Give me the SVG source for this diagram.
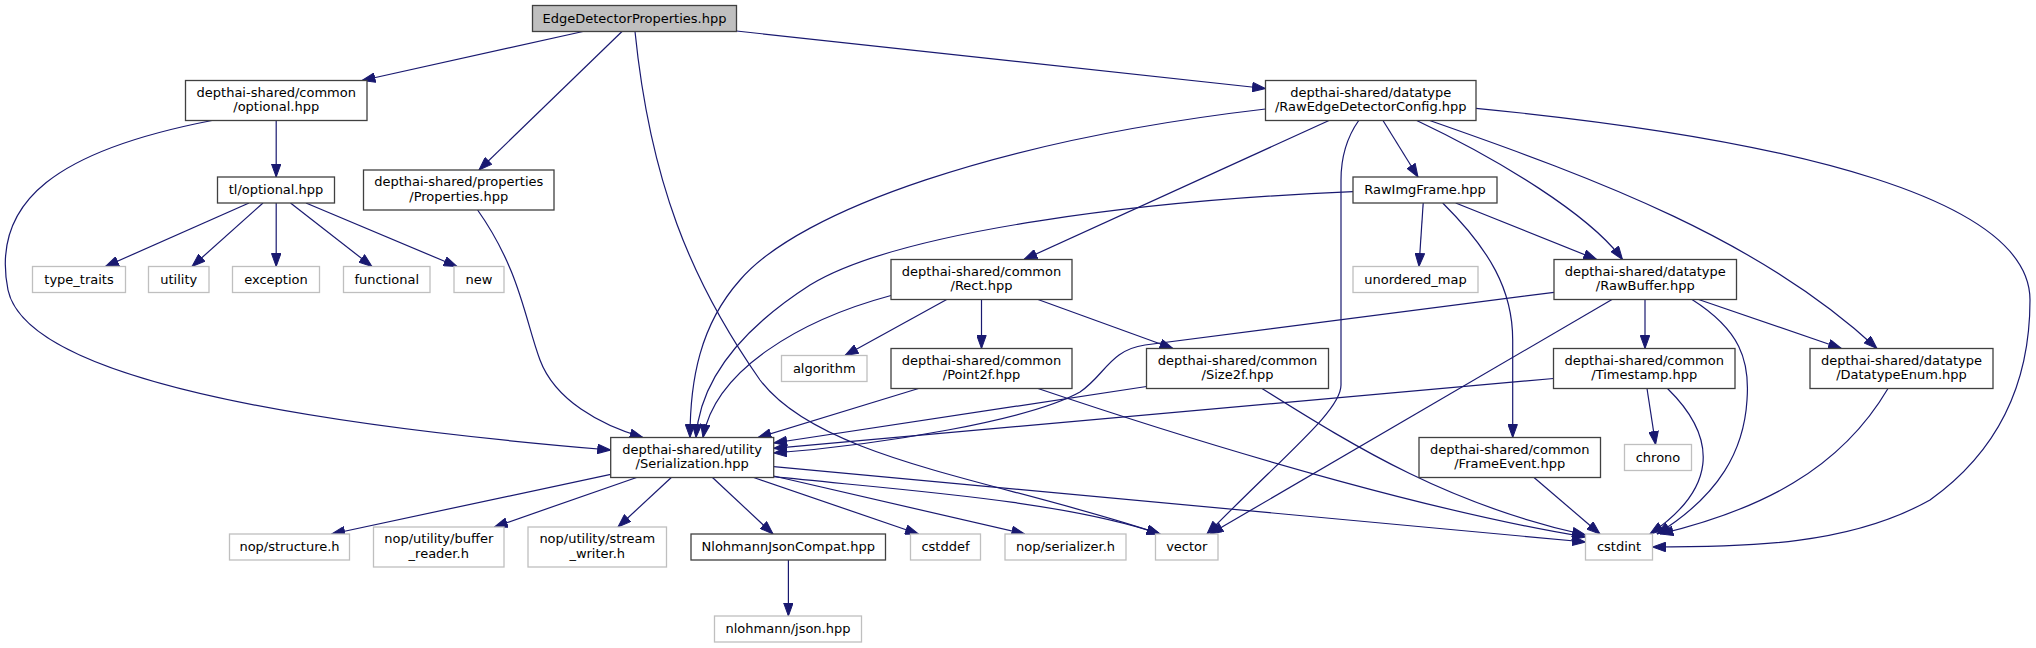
<svg xmlns="http://www.w3.org/2000/svg" width="2036" height="648" viewBox="0 0 2036 648">
<style>
rect{fill:#fff;stroke:#404040;stroke-width:1.3}
.root rect{fill:#bfbfbf}
.ext rect{stroke:#bfbfbf}
text{font-family:"DejaVu Sans","Liberation Sans",sans-serif;font-size:13px;text-anchor:middle;fill:#000}
#edges path{fill:none;stroke:#191970;stroke-width:1.2;marker-end:url(#a)}
</style>
<defs>
<marker id="a" markerUnits="userSpaceOnUse" markerWidth="14" markerHeight="10" viewBox="0 0 13 10" refX="13" refY="5" orient="auto">
<path d="M0,0.3 L13,5 L0,9.7 z" fill="#191970" stroke="#191970" stroke-width="1"/>
</marker>
</defs>
<rect x="0" y="0" width="2036" height="648" style="fill:#fff;stroke:none"/>
<g id="edges">
<path d="M583,31.5 L362,80.5"/>
<path d="M622,31.5 L479,170"/>
<path d="M635,31.5 C650,180 690,280 760,380 C820,460 1000,480 1160,534"/>
<path d="M736.5,31 L1265.5,88.5"/>
<path d="M276.2,120.5 L276.2,177"/>
<path d="M212,120.5 C60,150 -10,200 8,290 C25,370 250,420 610.7,450"/>
<path d="M249,203 L105.5,266.5"/>
<path d="M263,203 L192,266.5"/>
<path d="M276.2,203 L276.2,266.5"/>
<path d="M290.5,203 L372,266.5"/>
<path d="M306,203 L457,266.5"/>
<path d="M477.6,210 C520,270 525,320 540,360 C555,400 600,425 643,437.5"/>
<path d="M1265.5,109 C1000,140 800,210 740,280 C700,325 690,380 690,437.5"/>
<path d="M1329,120.5 L1024,259.5"/>
<path d="M1358.7,120.5 C1345,140 1341,160 1341,180 L1341,385 C1341,410 1290,450 1207,534"/>
<path d="M1383,120.5 L1418,177"/>
<path d="M1416.7,120.5 C1500,160 1590,215 1622.5,259.5"/>
<path d="M1429.7,120.5 C1600,180 1760,240 1877,348.5"/>
<path d="M1476,108.3 C1800,140 2030,200 2030,300 C2030,380 2000,450 1930,500 C1850,545 1750,547 1652.5,547"/>
<path d="M1353,191.7 C1150,200 900,230 810,285 C740,330 700,380 696,437.5"/>
<path d="M1423.2,203 L1419,266.5"/>
<path d="M1442.7,203 C1490,250 1512.7,290 1512.7,340 L1512.7,437.5"/>
<path d="M1455.7,203 L1596.7,259.5"/>
<path d="M891,295.5 C800,320 715,370 703,437.5"/>
<path d="M946.7,299.5 L845,355.5"/>
<path d="M981.5,299.5 L981.5,348.5"/>
<path d="M1038,299.5 L1173,348.5"/>
<path d="M1554,292.3 L1145,345 C1110,350 1105,375 1080,392 C1030,420 880,445 773.7,453"/>
<path d="M1645,299.5 L1645,348.5"/>
<path d="M1612,299.5 L1210,534"/>
<path d="M1692,299.5 C1740,330 1750,360 1747,400 C1744,450 1720,495 1657,534"/>
<path d="M1698.6,299.5 L1841.5,348.5"/>
<path d="M918.5,388.5 L758,437.5"/>
<path d="M1038,388.5 C1250,460 1450,515 1585.5,537"/>
<path d="M1146.5,386.5 L773.7,443"/>
<path d="M1262,388.5 C1360,450 1450,505 1585.5,535"/>
<path d="M1553.5,378.5 L773.7,448.3"/>
<path d="M1647,388.5 L1655.6,444.5"/>
<path d="M1667.5,388.5 C1720,440 1715,490 1650,534"/>
<path d="M1888,388.5 C1840,470 1760,510 1660,534"/>
<path d="M1534,477.5 L1600,534"/>
<path d="M610.7,474.3 L331.7,534"/>
<path d="M636.6,477.5 L494.4,527"/>
<path d="M671.3,477.5 L618,527"/>
<path d="M712.5,477.5 L773,534"/>
<path d="M753.7,477.5 L918.5,534"/>
<path d="M773.7,476 L1024.8,534"/>
<path d="M773.7,476.7 C900,490 1060,500 1160,534"/>
<path d="M773.7,466.7 L1585.5,542"/>
<path d="M788.4,560 L788.4,616"/>
</g>
<g id="n_edp" class="root"><rect x="532.5" y="5.5" width="204" height="26"/><text x="634.5" y="22.5">EdgeDetectorProperties.hpp</text></g>
<g id="n_optional"><rect x="185.5" y="80.5" width="181.5" height="40"/><text x="276.25" y="96.8">depthai-shared/common</text><text x="276.25" y="111.2">/optional.hpp</text></g>
<g id="n_rawedge"><rect x="1265.5" y="80.5" width="210.5" height="40"/><text x="1370.75" y="96.8">depthai-shared/datatype</text><text x="1370.75" y="111.2">/RawEdgeDetectorConfig.hpp</text></g>
<g id="n_tloptional"><rect x="217.5" y="177" width="117" height="26"/><text x="276" y="194">tl/optional.hpp</text></g>
<g id="n_properties"><rect x="363.5" y="170" width="190.5" height="40"/><text x="458.75" y="186.3">depthai-shared/properties</text><text x="458.75" y="200.7">/Properties.hpp</text></g>
<g id="n_rawimgframe"><rect x="1353" y="177" width="144" height="26"/><text x="1425" y="194">RawImgFrame.hpp</text></g>
<g id="n_type_traits" class="ext"><rect x="32.5" y="266.5" width="93" height="26"/><text x="79" y="283.5">type_traits</text></g>
<g id="n_utility" class="ext"><rect x="148.5" y="266.5" width="60.5" height="26"/><text x="178.75" y="283.5">utility</text></g>
<g id="n_exception" class="ext"><rect x="232.5" y="266.5" width="87" height="26"/><text x="276" y="283.5">exception</text></g>
<g id="n_functional" class="ext"><rect x="343.5" y="266.5" width="86.5" height="26"/><text x="386.75" y="283.5">functional</text></g>
<g id="n_new" class="ext"><rect x="454" y="266.5" width="50" height="26"/><text x="479" y="283.5">new</text></g>
<g id="n_unordered_map" class="ext"><rect x="1353" y="266.5" width="125" height="26"/><text x="1415.5" y="283.5">unordered_map</text></g>
<g id="n_rect"><rect x="891" y="259.5" width="181" height="40"/><text x="981.5" y="275.8">depthai-shared/common</text><text x="981.5" y="290.2">/Rect.hpp</text></g>
<g id="n_rawbuffer"><rect x="1554" y="259.5" width="182.5" height="40"/><text x="1645.25" y="275.8">depthai-shared/datatype</text><text x="1645.25" y="290.2">/RawBuffer.hpp</text></g>
<g id="n_algorithm" class="ext"><rect x="781.5" y="355.5" width="85.5" height="26"/><text x="824.25" y="372.5">algorithm</text></g>
<g id="n_point2f"><rect x="891" y="348.5" width="181" height="40"/><text x="981.5" y="364.8">depthai-shared/common</text><text x="981.5" y="379.2">/Point2f.hpp</text></g>
<g id="n_size2f"><rect x="1146.5" y="348.5" width="182" height="40"/><text x="1237.5" y="364.8">depthai-shared/common</text><text x="1237.5" y="379.2">/Size2f.hpp</text></g>
<g id="n_timestamp"><rect x="1553.5" y="348.5" width="181.5" height="40"/><text x="1644.25" y="364.8">depthai-shared/common</text><text x="1644.25" y="379.2">/Timestamp.hpp</text></g>
<g id="n_datatypeenum"><rect x="1810" y="348.5" width="183" height="40"/><text x="1901.5" y="364.8">depthai-shared/datatype</text><text x="1901.5" y="379.2">/DatatypeEnum.hpp</text></g>
<g id="n_serialization"><rect x="610.7" y="437.5" width="163" height="40"/><text x="692.2" y="453.8">depthai-shared/utility</text><text x="692.2" y="468.2">/Serialization.hpp</text></g>
<g id="n_frameevent"><rect x="1419" y="437.5" width="181.5" height="40"/><text x="1509.75" y="453.8">depthai-shared/common</text><text x="1509.75" y="468.2">/FrameEvent.hpp</text></g>
<g id="n_chrono" class="ext"><rect x="1624.5" y="444.5" width="67" height="26"/><text x="1658" y="461.5">chrono</text></g>
<g id="n_structure" class="ext"><rect x="229.5" y="534" width="120" height="26"/><text x="289.5" y="551">nop/structure.h</text></g>
<g id="n_buffer_reader" class="ext"><rect x="373.5" y="527" width="130.5" height="40"/><text x="438.75" y="543.3">nop/utility/buffer</text><text x="438.75" y="557.7">_reader.h</text></g>
<g id="n_stream_writer" class="ext"><rect x="528" y="527" width="138.5" height="40"/><text x="597.25" y="543.3">nop/utility/stream</text><text x="597.25" y="557.7">_writer.h</text></g>
<g id="n_nlohmannjsoncompat"><rect x="691" y="534" width="194.5" height="26"/><text x="788.25" y="551">NlohmannJsonCompat.hpp</text></g>
<g id="n_cstddef" class="ext"><rect x="910.5" y="534" width="70" height="26"/><text x="945.5" y="551">cstddef</text></g>
<g id="n_serializer" class="ext"><rect x="1005" y="534" width="121" height="26"/><text x="1065.5" y="551">nop/serializer.h</text></g>
<g id="n_vector" class="ext"><rect x="1155.5" y="534" width="62.5" height="26"/><text x="1186.75" y="551">vector</text></g>
<g id="n_cstdint" class="ext"><rect x="1585.5" y="534" width="67" height="26"/><text x="1619" y="551">cstdint</text></g>
<g id="n_json" class="ext"><rect x="714.5" y="616" width="147" height="26"/><text x="788" y="633">nlohmann/json.hpp</text></g>
</svg>
